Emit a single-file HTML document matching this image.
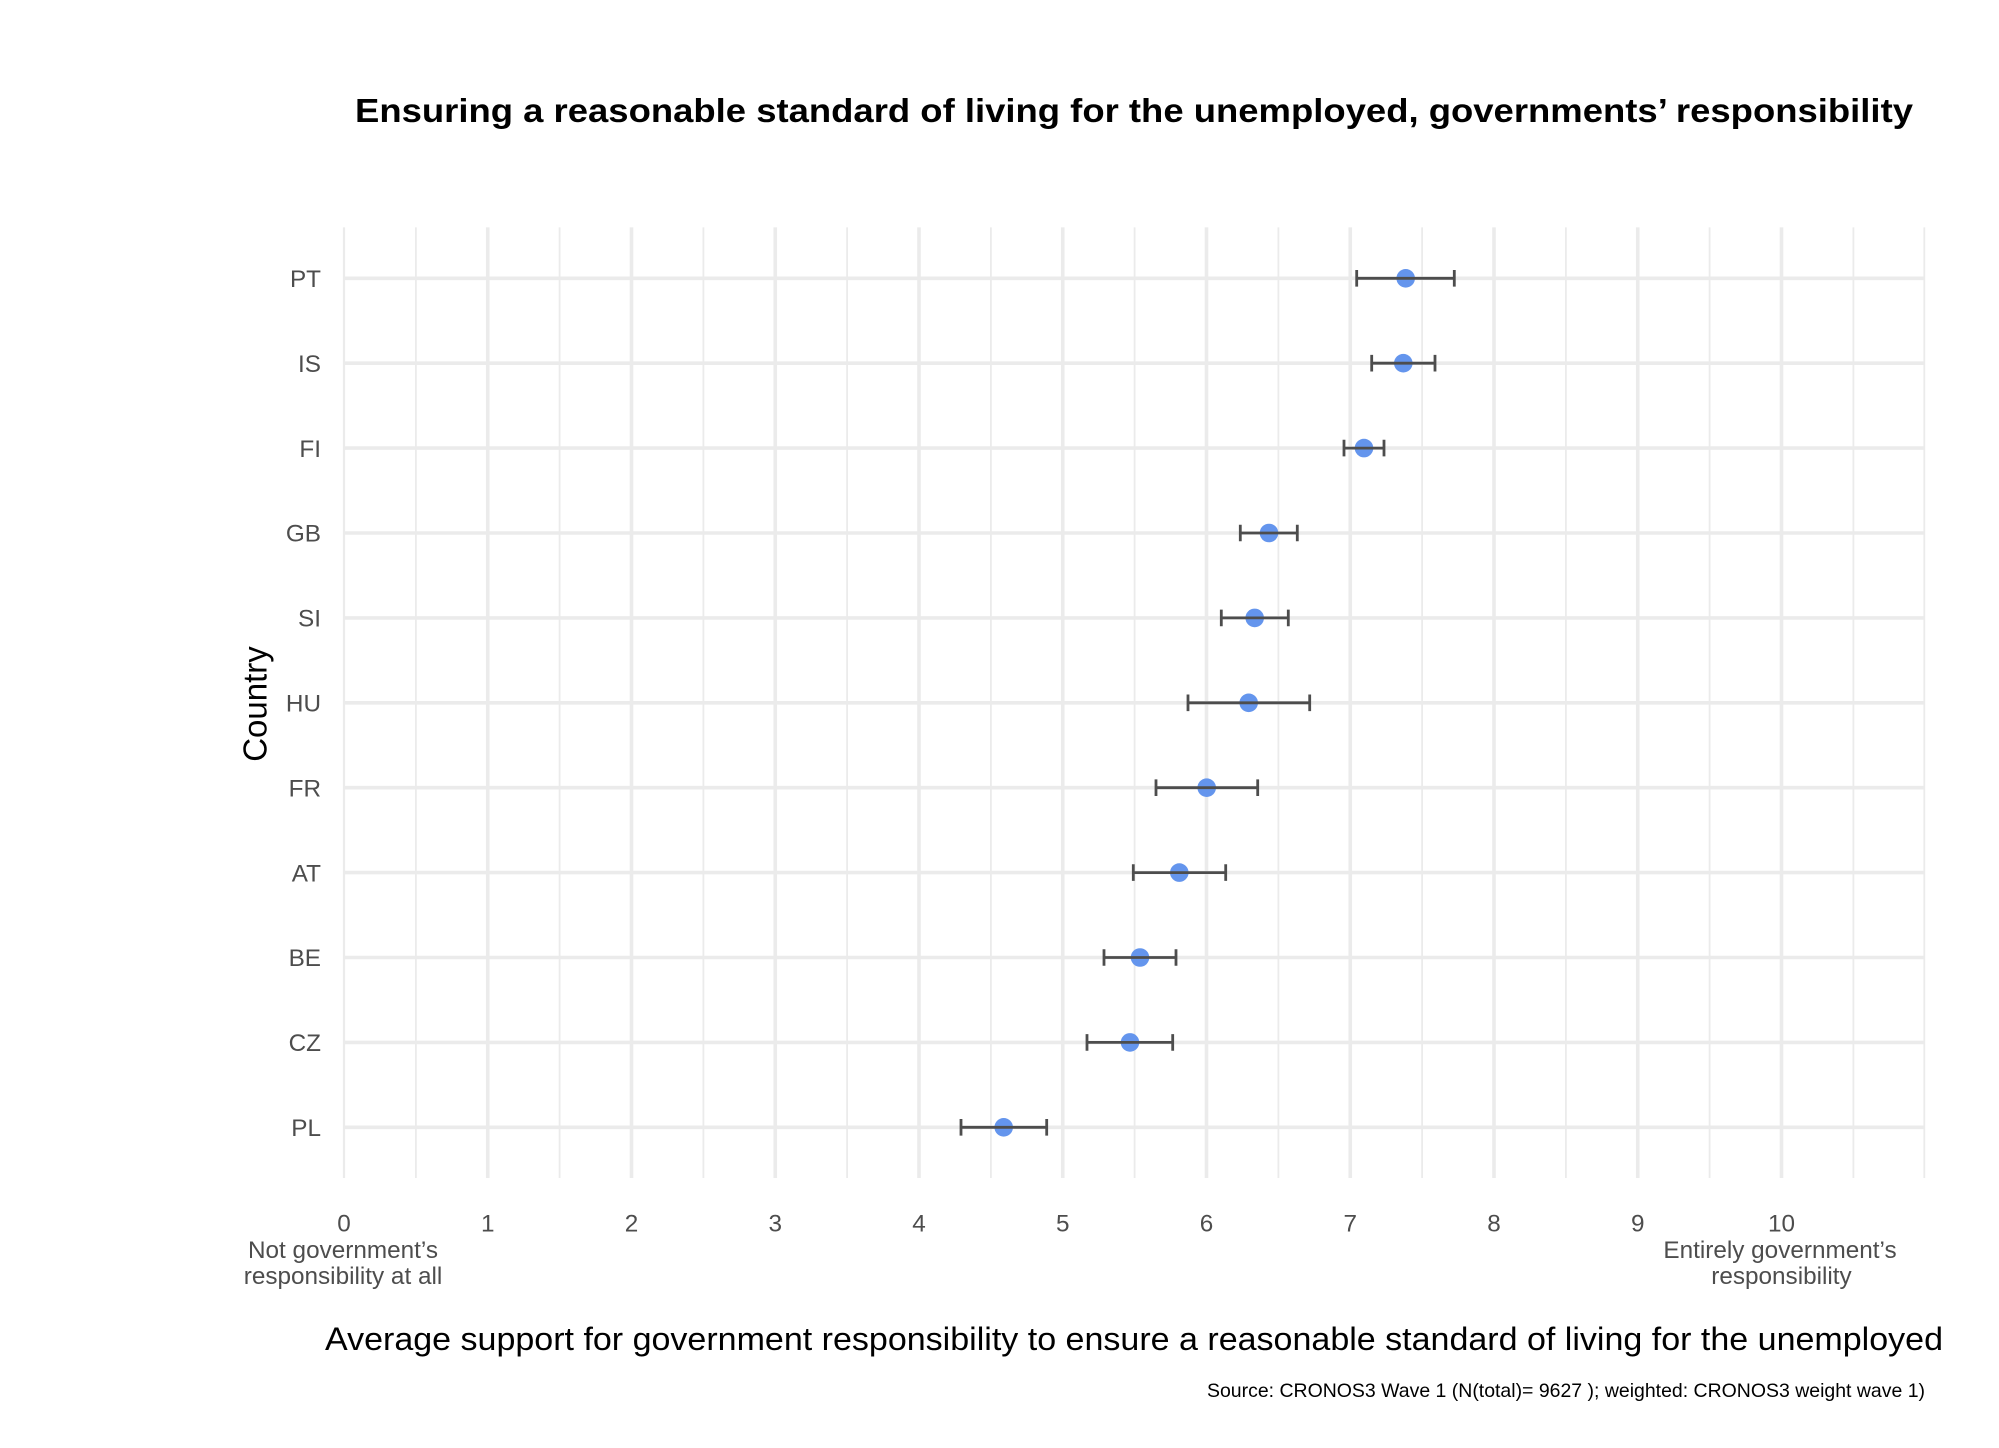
<!DOCTYPE html>
<html>
<head>
<meta charset="utf-8">
<style>
html,body{margin:0;padding:0;background:#fff;}
svg{display:block;}
text{font-family:"Liberation Sans",Arial,sans-serif;}
</style>
</head>
<body>
<svg width="1999" height="1448" viewBox="0 0 1999 1448" xmlns="http://www.w3.org/2000/svg">
<rect width="1999" height="1448" fill="#fff"/>
<!-- title -->
<text x="1134" y="122" text-anchor="middle" font-size="33.5" font-weight="bold" fill="#000" textLength="1558" lengthAdjust="spacingAndGlyphs">Ensuring a reasonable standard of living for the unemployed, governments’ responsibility</text>

<!-- panel grid -->
<g stroke="#ebebeb" fill="none">
  <!-- minor verticals -->
  <g stroke-width="1.8">
    <line x1="415.9" y1="227.4" x2="415.9" y2="1178"/>
    <line x1="559.6" y1="227.4" x2="559.6" y2="1178"/>
    <line x1="703.4" y1="227.4" x2="703.4" y2="1178"/>
    <line x1="847.1" y1="227.4" x2="847.1" y2="1178"/>
    <line x1="990.9" y1="227.4" x2="990.9" y2="1178"/>
    <line x1="1134.6" y1="227.4" x2="1134.6" y2="1178"/>
    <line x1="1278.4" y1="227.4" x2="1278.4" y2="1178"/>
    <line x1="1422.1" y1="227.4" x2="1422.1" y2="1178"/>
    <line x1="1565.9" y1="227.4" x2="1565.9" y2="1178"/>
    <line x1="1709.6" y1="227.4" x2="1709.6" y2="1178"/>
    <line x1="1853.4" y1="227.4" x2="1853.4" y2="1178"/>
    <line x1="1924.3" y1="227.4" x2="1924.3" y2="1178"/>
  </g>
  <!-- major verticals -->
  <g stroke-width="3.6">
    <line x1="344" y1="227.4" x2="344" y2="1178" stroke-width="2.2"/>
    <line x1="487.75" y1="227.4" x2="487.75" y2="1178"/>
    <line x1="631.5" y1="227.4" x2="631.5" y2="1178"/>
    <line x1="775.25" y1="227.4" x2="775.25" y2="1178"/>
    <line x1="919" y1="227.4" x2="919" y2="1178"/>
    <line x1="1062.75" y1="227.4" x2="1062.75" y2="1178"/>
    <line x1="1206.5" y1="227.4" x2="1206.5" y2="1178"/>
    <line x1="1350.25" y1="227.4" x2="1350.25" y2="1178"/>
    <line x1="1494" y1="227.4" x2="1494" y2="1178"/>
    <line x1="1637.75" y1="227.4" x2="1637.75" y2="1178"/>
    <line x1="1781.5" y1="227.4" x2="1781.5" y2="1178"/>
  </g>
  <!-- major horizontals -->
  <g stroke-width="3.6">
    <line x1="344" y1="278.3" x2="1925" y2="278.3"/>
    <line x1="344" y1="363.2" x2="1925" y2="363.2"/>
    <line x1="344" y1="448.1" x2="1925" y2="448.1"/>
    <line x1="344" y1="533.0" x2="1925" y2="533.0"/>
    <line x1="344" y1="617.9" x2="1925" y2="617.9"/>
    <line x1="344" y1="702.8" x2="1925" y2="702.8"/>
    <line x1="344" y1="787.7" x2="1925" y2="787.7"/>
    <line x1="344" y1="872.6" x2="1925" y2="872.6"/>
    <line x1="344" y1="957.5" x2="1925" y2="957.5"/>
    <line x1="344" y1="1042.4" x2="1925" y2="1042.4"/>
    <line x1="344" y1="1127.3" x2="1925" y2="1127.3"/>
  </g>
</g>

<!-- points -->
<g fill="#6495ED">
  <circle cx="1405.7" cy="278.3" r="9.3"/>
  <circle cx="1403.3" cy="363.2" r="9.3"/>
  <circle cx="1364" cy="448.1" r="9.3"/>
  <circle cx="1269" cy="533.0" r="9.3"/>
  <circle cx="1254.7" cy="617.9" r="9.3"/>
  <circle cx="1248.7" cy="702.8" r="9.3"/>
  <circle cx="1206.7" cy="787.7" r="9.3"/>
  <circle cx="1179.3" cy="872.6" r="9.3"/>
  <circle cx="1140" cy="957.5" r="9.3"/>
  <circle cx="1130" cy="1042.4" r="9.3"/>
  <circle cx="1003.7" cy="1127.3" r="9.3"/>
</g>

<!-- error bars -->
<g stroke="#4d4d4d" stroke-width="2.8" fill="none">
  <path d="M1356.7 278.3H1454.3M1356.7 270V286.6M1454.3 270V286.6"/>
  <path d="M1371.7 363.2H1435M1371.7 354.9V371.5M1435 354.9V371.5"/>
  <path d="M1344 448.1H1384M1344 439.8V456.4M1384 439.8V456.4"/>
  <path d="M1240.3 533.0H1297.3M1240.3 524.7V541.3M1297.3 524.7V541.3"/>
  <path d="M1221.3 617.9H1288.3M1221.3 609.6V626.2M1288.3 609.6V626.2"/>
  <path d="M1188 702.8H1309.7M1188 694.5V711.1M1309.7 694.5V711.1"/>
  <path d="M1156 787.7H1257.7M1156 779.4V796M1257.7 779.4V796"/>
  <path d="M1133.3 872.6H1225.7M1133.3 864.3V880.9M1225.7 864.3V880.9"/>
  <path d="M1104 957.5H1176M1104 949.2V965.8M1176 949.2V965.8"/>
  <path d="M1087 1042.4H1172.7M1087 1034.1V1050.7M1172.7 1034.1V1050.7"/>
  <path d="M961 1127.3H1046.7M961 1119V1135.6M1046.7 1119V1135.6"/>
</g>

<!-- y tick labels -->
<g font-size="24.3" fill="#4d4d4d" text-anchor="end">
  <text x="321" y="287">PT</text>
  <text x="321" y="371.9">IS</text>
  <text x="321" y="456.8">FI</text>
  <text x="321" y="541.7">GB</text>
  <text x="321" y="626.6">SI</text>
  <text x="321" y="711.5">HU</text>
  <text x="321" y="796.4">FR</text>
  <text x="321" y="881.3">AT</text>
  <text x="321" y="966.2">BE</text>
  <text x="321" y="1051.1">CZ</text>
  <text x="321" y="1136">PL</text>
</g>

<!-- x tick labels -->
<g font-size="24.3" fill="#4d4d4d" text-anchor="middle">
  <text x="344" y="1231.7">0</text>
  <text x="487.75" y="1231.7">1</text>
  <text x="631.5" y="1231.7">2</text>
  <text x="775.25" y="1231.7">3</text>
  <text x="919" y="1231.7">4</text>
  <text x="1062.75" y="1231.7">5</text>
  <text x="1206.5" y="1231.7">6</text>
  <text x="1350.25" y="1231.7">7</text>
  <text x="1494" y="1231.7">8</text>
  <text x="1637.75" y="1231.7">9</text>
  <text x="1781.5" y="1231.7">10</text>
  <text x="343" y="1257.8">Not government’s</text>
  <text x="343" y="1283.8">responsibility at all</text>
  <text x="1780" y="1257.8">Entirely government’s</text>
  <text x="1781.5" y="1283.8">responsibility</text>
</g>

<!-- axis titles -->
<text transform="translate(266.5,704) rotate(-90)" text-anchor="middle" font-size="33" fill="#000">Country</text>
<text x="1134" y="1350" text-anchor="middle" font-size="32.5" fill="#000" textLength="1618" lengthAdjust="spacingAndGlyphs">Average support for government responsibility to ensure a reasonable standard of living for the unemployed</text>

<!-- caption -->
<text x="1925" y="1397" text-anchor="end" font-size="19.4" fill="#000" textLength="718" lengthAdjust="spacingAndGlyphs">Source: CRONOS3 Wave 1 (N(total)= 9627 ); weighted: CRONOS3 weight wave 1)</text>
</svg>
</body>
</html>
